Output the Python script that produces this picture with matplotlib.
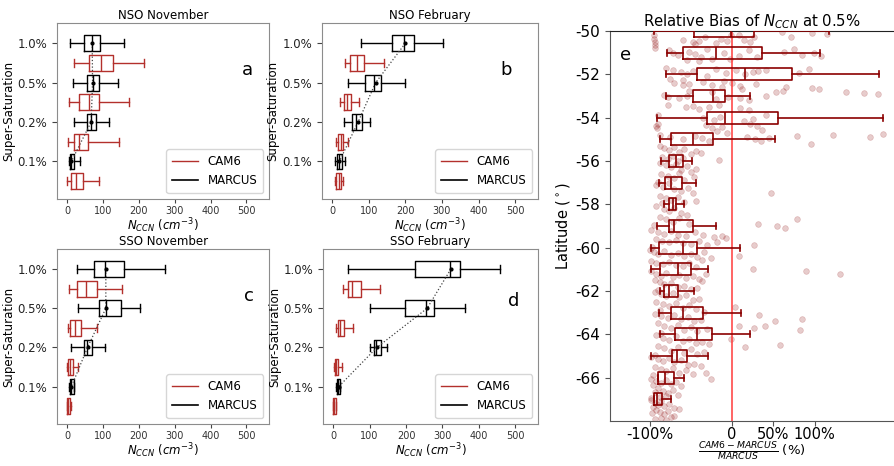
import matplotlib
matplotlib.use('Agg')
import matplotlib.pyplot as plt
from matplotlib.lines import Line2D

ss_labels = ['1.0%', '0.5%', '0.2%', '0.1%']
marcus_pos = [8, 6, 4, 2]
cam6_pos = [7, 5, 3, 1]

# rows: whisker low, q1, median, q3, whisker high (, mean for MARCUS)
nso_nov_marcus = [[9, 48, 70, 93, 160, 70], [16, 55, 71, 88, 141, 71],
                  [18, 55, 67, 81, 118, 67], [6, 8, 11, 18, 37, 12]]
nso_nov_cam6 = [[18, 60, 95, 127, 215], [4, 32, 60, 90, 172],
                [2, 18, 34, 58, 146], [0, 11, 25, 44, 90]]

nso_feb_marcus = [[80, 163, 196, 223, 302, 200], [44, 90, 115, 134, 200, 119],
                  [32, 54, 66, 83, 104, 71], [9, 14, 20, 28, 34, 20]]
nso_feb_cam6 = [[34, 49, 67, 88, 141], [21, 32, 42, 51, 74],
                [11, 17, 23, 30, 43], [7, 12, 18, 23, 30]]

sso_nov_marcus = [[28, 74, 106, 160, 274, 108], [31, 88, 108, 149, 202, 108],
                  [11, 46, 55, 69, 106, 57], [6, 8, 12, 18, 20, 12]]
sso_nov_cam6 = [[6, 27, 54, 83, 152], [2, 9, 22, 39, 83],
                [0, 2, 7, 16, 30], [0, 0, 3, 7, 11]]

sso_feb_marcus = [[42, 226, 321, 349, 457, 323], [101, 196, 254, 277, 362, 258],
                  [101, 111, 118, 132, 148, 120], [9, 11, 14, 18, 20, 15]]
sso_feb_cam6 = [[26, 40, 51, 76, 129], [7, 12, 18, 30, 55],
                [3, 5, 9, 14, 23], [0, 0, 3, 7, 9]]

# panel e: latitude bins and box stats of relative bias (%)
lat_bins = [-50, -51, -52, -53, -54, -55, -56, -57, -58, -59,
            -60, -61, -62, -63, -64, -65, -66, -67]
bias_lo = [-95, -79, -80, -80, -91, -87, -86, -89, -83, -91,
           -98, -98, -87, -89, -87, -98, -90, -95]
bias_q1 = [-46, -59, -43, -48, -31, -74, -76, -81, -76, -77,
           -89, -88, -82, -74, -69, -73, -90, -95]
bias_med = [-2, -19, 15, -23, -9, -48, -68, -74, -72, -70,
            -59, -66, -77, -60, -43, -67, -81, -91]
bias_q3 = [26, 36, 73, -9, 55, -23, -60, -61, -68, -48,
           -43, -50, -66, -35, -25, -55, -70, -85]
bias_hi = [117, 106, 178, 21, 183, 52, -49, -44, -58, -19,
           10, -29, -46, 11, 21, -29, -58, -74]

# individual points (latitude, relative bias %)
obs_points = [
    (-50.2, -95), (-50.35, -95), (-50.5, -94), (-50.65, -94), (-50.8, -93),
    (-50.4, -60), (-50.5, -48), (-50.45, -40), (-50.3, -33), (-50.6, -45),
    (-50.35, -14), (-50.45, -6), (-50.2, -2), (-50.55, -20),
    (-50.2, 8), (-50.4, 14), (-50.5, 22), (-50.3, 26),
    (-50.3, 71), (-50.1, 97), (-50.15, 115), (-50.05, 60),
    (-50.9, -76), (-51.0, -72), (-51.1, -66), (-50.95, -52), (-51.05, -45),
    (-51.2, -38), (-50.85, -30), (-51.3, -24), (-51.0, -10), (-51.15, 8),
    (-50.9, 20), (-51.2, 30), (-50.95, 63), (-50.85, 75), (-51.1, 85),
    (-51.0, 99), (-51.15, 107), (-51.35, -55), (-51.4, -40), (-51.3, -3),
    (-51.7, -80), (-51.8, -72), (-51.9, -62), (-52.0, -55), (-51.85, -48),
    (-51.75, -20), (-51.95, -8), (-51.8, 5), (-52.0, 15), (-51.9, 25),
    (-51.85, 31), (-51.8, 41), (-51.95, 81), (-51.75, 93), (-52.2, -75),
    (-52.25, -60), (-52.1, -30), (-52.3, -10),
    (-52.4, -70), (-52.5, -60), (-52.45, -52), (-52.35, -35), (-52.5, -25),
    (-52.6, -12), (-52.4, 0), (-52.55, 10), (-52.45, 29), (-52.6, 65),
    (-52.75, -52), (-52.8, -24), (-52.7, 12), (-52.8, 53), (-52.75, 61),
    (-52.65, 97), (-52.7, 105), (-52.8, 138), (-52.85, 160), (-52.9, 177),
    (-52.95, -82),
    (-53.05, -78), (-53.1, -65), (-53.0, -55), (-53.15, -20), (-53.05, -5),
    (-53.1, 10), (-53.2, 20), (-53.0, 41), (-53.4, -78), (-53.5, -56),
    (-53.45, -48), (-53.6, -40), (-53.5, -28), (-53.4, -16), (-53.55, 10),
    (-53.65, 20), (-53.9, -90), (-54.0, -35), (-54.1, -22), (-53.95, -15),
    (-54.15, 14), (-54.05, 25), (-53.9, 41),
    (-54.3, -90), (-54.4, -92), (-54.5, -91), (-54.35, -32), (-54.5, -25),
    (-54.6, -18), (-54.45, -12), (-54.7, -6), (-54.3, 22), (-54.4, 30),
    (-54.55, 36), (-54.8, -88), (-54.9, -75), (-55.0, -60), (-54.85, -45),
    (-54.95, -36), (-55.1, -28), (-54.9, 18), (-55.0, 28), (-55.1, 35),
    (-54.95, 45), (-54.85, 79), (-55.2, 95), (-54.8, 122), (-54.9, 167),
    (-54.75, 183),
    (-55.3, -88), (-55.4, -82), (-55.5, -76), (-55.35, -70), (-55.6, -64),
    (-55.45, -58), (-55.7, -50), (-55.55, -44), (-55.8, -85), (-55.9, -78),
    (-55.75, -72), (-56.0, -66), (-55.85, -60), (-55.95, -16), (-55.65, -38),
    (-56.1, -88), (-56.2, -80), (-56.3, -74), (-56.15, -68), (-56.4, -62),
    (-56.25, -55), (-56.5, -50), (-56.6, -86), (-56.7, -78), (-56.8, -70),
    (-56.55, -65), (-56.9, -58), (-56.75, -46), (-56.35, -44), (-56.95, -90),
    (-57.1, -92), (-57.2, -84), (-57.0, -76), (-57.3, -70), (-57.4, -62),
    (-57.25, -54), (-57.5, -47), (-57.5, 47), (-57.6, -88), (-57.7, -80),
    (-57.8, -74), (-57.65, -66), (-57.9, -58), (-57.85, -44), (-57.95, -85),
    (-58.1, -92), (-58.2, -82), (-58.3, -76), (-58.15, -70), (-58.4, -62),
    (-58.5, -55), (-58.6, -88), (-58.7, -80), (-58.8, -72), (-58.65, -64),
    (-58.9, -52), (-58.95, -95), (-58.7, 79), (-58.9, 31), (-59.0, 54),
    (-59.1, 64),
    (-59.2, -98), (-59.3, -90), (-59.35, -82), (-59.25, -74), (-59.4, -66),
    (-59.45, -56), (-59.3, -45), (-59.4, -35), (-59.5, -22), (-59.45, -12),
    (-59.6, -92), (-59.7, -85), (-59.75, -76), (-59.65, -68), (-59.8, -60),
    (-59.85, -50), (-59.7, -40), (-59.9, -30), (-59.75, -18), (-59.55, -8),
    (-59.9, 27), (-59.95, -97),
    (-60.1, -100), (-60.2, -95), (-60.3, -90), (-60.15, -82), (-60.35, -74),
    (-60.25, -66), (-60.4, -58), (-60.3, -50), (-60.45, -42), (-60.2, -34),
    (-60.4, 8), (-60.5, -26), (-60.6, -98), (-60.7, -92), (-60.75, -84),
    (-60.65, -76), (-60.8, -68), (-60.85, -60), (-60.7, -52), (-60.9, -44),
    (-60.55, -36), (-61.0, 25), (-61.1, 90), (-61.2, 131),
    (-61.1, -98), (-61.2, -92), (-61.3, -86), (-61.15, -80), (-61.35, -72),
    (-61.25, -64), (-61.4, -56), (-61.3, -48), (-61.45, -40), (-61.2, -32),
    (-61.5, -94), (-61.6, -88), (-61.7, -82), (-61.65, -74), (-61.8, -66),
    (-61.75, -58), (-61.9, -50), (-61.85, -42), (-61.95, -90), (-61.55, -36),
    (-62.05, -94), (-62.15, -86), (-62.25, -80), (-62.1, -72), (-62.3, -64),
    (-62.2, -56), (-62.4, -48), (-62.35, -40), (-62.5, -92), (-62.6, -84),
    (-62.7, -76), (-62.55, -68), (-62.8, -60), (-62.65, -52), (-62.85, -44),
    (-62.75, 4), (-62.9, -88), (-62.95, -34),
    (-63.05, -94), (-63.15, -86), (-63.25, -78), (-63.1, -70), (-63.3, -62),
    (-63.2, -54), (-63.4, -46), (-63.35, -38), (-63.1, 33), (-63.4, 52),
    (-63.3, 85), (-63.5, -90), (-63.6, -82), (-63.7, -74), (-63.55, -66),
    (-63.8, -58), (-63.65, -50), (-63.85, -42), (-63.75, -30), (-63.6, 40),
    (-63.7, 26), (-63.6, 8), (-63.8, 82), (-63.95, -86),
    (-64.05, -92), (-64.15, -84), (-64.25, -76), (-64.1, -68), (-64.3, -60),
    (-64.2, -52), (-64.4, -44), (-64.35, -36), (-64.45, -28), (-64.2, -2),
    (-64.6, 16), (-64.5, 58), (-64.55, -90), (-64.65, -82), (-64.75, -74),
    (-64.6, -66), (-64.85, -58), (-64.7, -50), (-64.9, -42), (-64.8, -34),
    (-64.95, -94),
    (-65.05, -98), (-65.15, -90), (-65.25, -84), (-65.1, -76), (-65.3, -70),
    (-65.2, -62), (-65.4, -54), (-65.35, -46), (-65.45, -38), (-65.5, -94),
    (-65.6, -86), (-65.7, -80), (-65.55, -72), (-65.8, -64), (-65.65, -56),
    (-65.85, -48), (-65.8, -32), (-66.05, -26), (-65.9, -96),
    (-66.05, -98), (-66.15, -92), (-66.25, -86), (-66.1, -80), (-66.3, -74),
    (-66.2, -68), (-66.4, -62), (-66.35, -96), (-66.5, -90), (-66.6, -84),
    (-66.7, -78), (-66.55, -72), (-66.8, -66), (-66.65, -94), (-66.9, -88),
    (-66.85, -80), (-66.95, -98),
    (-67.05, -98), (-67.15, -94), (-67.25, -90), (-67.1, -86), (-67.3, -82),
    (-67.2, -76), (-67.4, -70), (-67.35, -96), (-67.5, -92), (-67.6, -88),
    (-67.7, -82), (-67.55, -78), (-67.8, -74), (-67.65, -97), (-67.9, -93),
    (-67.85, -86), (-67.95, -80), (-67.45, -64), (-67.75, -70),
]

CAM_RED = '#b3302c'
DARK_RED = '#8b0000'
FRAME = '#8c8c8c'


def to_stats(rows, with_mean):
    out = []
    for r in rows:
        d = dict(whislo=r[0], q1=r[1], med=r[2], q3=r[3], whishi=r[4], fliers=[])
        if with_mean:
            d['mean'] = r[5]
        out.append(d)
    return out


def draw_panel(ax, marcus, cam6, title, letter, letter_xy):
    kw_m = dict(color='k', lw=1)
    kw_c = dict(color=CAM_RED, lw=1)
    ax.bxp(to_stats(cam6, False), positions=cam6_pos, widths=0.8,
           orientation='horizontal', manage_ticks=False,
           boxprops=kw_c, whiskerprops=kw_c, capprops=kw_c, medianprops=kw_c)
    ax.bxp(to_stats(marcus, True), positions=marcus_pos, widths=0.8,
           orientation='horizontal', manage_ticks=False, showmeans=True,
           boxprops=kw_m, whiskerprops=kw_m, capprops=kw_m, medianprops=kw_m,
           meanprops=dict(marker='o', markerfacecolor='k', markeredgecolor='k',
                          markersize=2))
    ax.plot([r[5] for r in marcus], marcus_pos, ls=':', color='#444444', lw=0.9)

    ax.set_xlim(-28, 563)
    ax.set_ylim(0.09, 9.03)
    ax.set_yticks(marcus_pos)
    ax.set_yticklabels(ss_labels, fontsize=8.5)
    ax.set_xticks([0, 100, 200, 300, 400, 500])
    ax.tick_params(axis='x', labelsize=7, colors='#444444', labelcolor='#333333',
                   pad=2, length=3)
    ax.tick_params(axis='y', colors='#444444', labelcolor='#222222')
    for s in ax.spines.values():
        s.set_color(FRAME)
    ax.set_title(title, fontsize=8.5, pad=3)
    ax.set_xlabel(r'$N_{CCN}$ $(cm^{-3})$', fontsize=8.5, labelpad=0)
    ax.set_ylabel('Super-Saturation', fontsize=8.5, labelpad=2)
    ax.text(letter_xy[0], letter_xy[1], letter, transform=ax.transAxes,
            fontsize=13, ha='center', va='center')
    handles = [Line2D([], [], color=CAM_RED, lw=1), Line2D([], [], color='k', lw=1.2)]
    ax.legend(handles, ['CAM6', 'MARCUS'], loc='lower right', fontsize=8.5,
              handlelength=2.2, borderpad=0.5, labelspacing=0.5)


fig = plt.figure(figsize=(8.94, 4.66), dpi=100)

ax_a = fig.add_axes([0.0638, 0.573, 0.2372, 0.3776])
ax_b = fig.add_axes([0.360, 0.573, 0.242, 0.3776])
ax_c = fig.add_axes([0.0638, 0.0901, 0.2372, 0.3756])
ax_d = fig.add_axes([0.3613, 0.0901, 0.2407, 0.3756])

draw_panel(ax_a, nso_nov_marcus, nso_nov_cam6, 'NSO November', 'a', (0.896, 0.733))
draw_panel(ax_b, nso_feb_marcus, nso_feb_cam6, 'NSO February', 'b', (0.85, 0.733))
draw_panel(ax_c, sso_nov_marcus, sso_nov_cam6, 'SSO November', 'c', (0.906, 0.733))
draw_panel(ax_d, sso_feb_marcus, sso_feb_cam6, 'SSO February', 'd', (0.888, 0.70))

# panel e
ax_e = fig.add_axes([0.6823, 0.0966, 0.3177, 0.8369])
pt_lat = [p[0] for p in obs_points]
pt_bias = [p[1] for p in obs_points]
ax_e.scatter(pt_bias, pt_lat, s=17, color=DARK_RED, alpha=0.2, linewidths=0.5, zorder=1)

e_stats = [dict(whislo=lo, q1=q1, med=md, q3=q3, whishi=hi, fliers=[])
           for lo, q1, md, q3, hi in zip(bias_lo, bias_q1, bias_med, bias_q3, bias_hi)]
kw_e = dict(color=DARK_RED, lw=1.2)
ax_e.bxp(e_stats, positions=lat_bins, widths=0.55, orientation='horizontal',
         manage_ticks=False, boxprops=kw_e, whiskerprops=kw_e, capprops=kw_e,
         medianprops=kw_e, zorder=3)
ax_e.axvline(0, color='#ff3b3b', lw=1.1, zorder=2)

ax_e.set_xlim(-148, 196)
ax_e.set_ylim(-68, -50)
ax_e.set_yticks(range(-50, -67, -2))
ax_e.set_yticklabels([str(v) for v in range(-50, -67, -2)], fontsize=11)
ax_e.set_xticks([-100, 0, 50, 100])
ax_e.set_xticklabels(['-100%', '0', '50%', '100%'], fontsize=10.5)
ax_e.spines['right'].set_visible(False)
ax_e.spines['left'].set_color('#555555')
ax_e.spines['bottom'].set_color('#555555')
ax_e.spines['top'].set_color('#222222')
ax_e.tick_params(colors='#555555', labelcolor='k')
ax_e.tick_params(axis='x', pad=1)
ax_e.set_title(r'Relative Bias of $N_{CCN}$ at 0.5%', fontsize=10.7, pad=2)
ax_e.set_ylabel(r'Latitude ($^\circ$)', fontsize=10.5, labelpad=2)
ax_e.set_xlabel(r'$\frac{CAM6-MARCUS}{MARCUS}$ (%)', fontsize=9.5)
ax_e.xaxis.set_label_coords(0.5, -0.052)
ax_e.text(0.056, 0.938, 'e', transform=ax_e.transAxes, fontsize=13,
          ha='center', va='center')

fig.savefig('out.png', dpi=100)
